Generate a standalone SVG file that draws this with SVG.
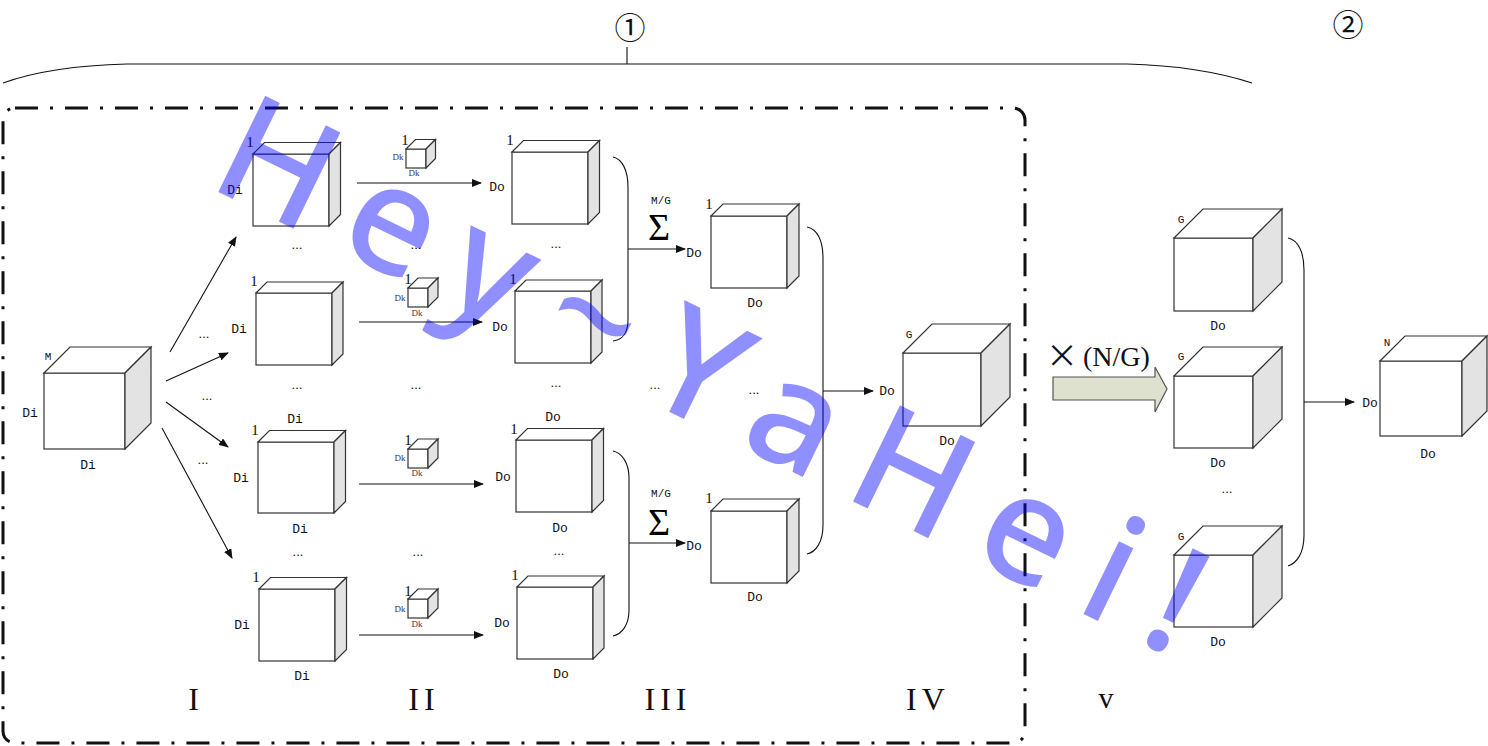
<svg xmlns="http://www.w3.org/2000/svg" width="1488" height="746" viewBox="0 0 1488 746">
<style>
.f{fill:#fff;stroke:#333;stroke-width:1.2;stroke-linejoin:miter}
.s{fill:#e3e3e3;stroke:#333;stroke-width:1.2}
.l{font-family:"Liberation Mono",monospace;font-size:13px;fill:#111;text-anchor:middle}
.k{font-family:"Liberation Serif",serif;font-size:9px;fill:#3a3048;text-anchor:middle}
.n{font-family:"Liberation Serif",serif;font-size:15px;fill:#111;text-anchor:middle}
.d{font-family:"Liberation Sans",sans-serif;font-size:13px;fill:#111;text-anchor:middle}
.r{font-family:"Liberation Serif",serif;font-size:32px;fill:#111;text-anchor:middle;letter-spacing:5px}
.sg{font-family:"Liberation Serif",serif;font-size:38px;fill:#000;text-anchor:middle}
.mg{font-family:"Liberation Mono",monospace;font-size:11px;fill:#111;text-anchor:middle}
.cn{stroke:#111;stroke-width:1.1;fill:none}
.wm{font-family:"Noto Sans","Open Sans",sans-serif;font-size:150px;font-weight:500;fill:#0000ff;fill-opacity:0.44;letter-spacing:30px}
</style>
<defs>
<marker id="ah" markerWidth="10" markerHeight="8" refX="9" refY="4" orient="auto" markerUnits="userSpaceOnUse">
<path d="M0,0 L10,4 L0,8 Z" fill="#111"/>
</marker>
</defs>

<!-- top brace and labels -->
<g id="topbrace">
<path class="cn" d="M3,83 Q50,66 127,64 L1127,64 Q1200,66 1252,83"/>
<path class="cn" d="M627,47 L627,64"/>
<text x="630" y="39" font-family="Noto Sans CJK SC, sans-serif" font-size="31" text-anchor="middle" fill="#111">①</text>
<text x="1348" y="36" font-family="Noto Sans CJK SC, sans-serif" font-size="31" text-anchor="middle" fill="#111">②</text>
</g>

<rect id="frame" x="3" y="108" width="1022" height="635" rx="12" fill="none" stroke="#111" stroke-width="3" stroke-dasharray="23 12 3 12"/>

<!-- connectors -->
<g id="connectors">
<path class="cn" d="M170,352 L236,237" marker-end="url(#ah)"/>
<path class="cn" d="M166,381 L228,353" marker-end="url(#ah)"/>
<path class="cn" d="M166,402 L228,447" marker-end="url(#ah)"/>
<path class="cn" d="M162,428 L232,558" marker-end="url(#ah)"/>
<path class="cn" d="M357,183 L481,183" marker-end="url(#ah)"/>
<path class="cn" d="M359,322 L482,322" marker-end="url(#ah)"/>
<path class="cn" d="M359,484 L483,484" marker-end="url(#ah)"/>
<path class="cn" d="M359,635 L483,635" marker-end="url(#ah)"/>
<path class="cn" d="M613,157 C622,159 628,170 628,187 L628,320 C628,333 622,340 613,341"/>
<path class="cn" d="M613,451 C622,453 629,463 629,478 L629,610 C629,625 622,634 613,636"/>
<path class="cn" d="M628,249 L685,249" marker-end="url(#ah)"/>
<path class="cn" d="M629,543 L685,543" marker-end="url(#ah)"/>
<path class="cn" d="M807,227 C817,229 823,240 823,258 L823,525 C823,542 816,552 807,554"/>
<path class="cn" d="M823,391 L873,391" marker-end="url(#ah)"/>
<path class="cn" d="M1288,238 C1298,240 1304,252 1304,270 L1304,535 C1304,553 1297,563 1288,566"/>
<path class="cn" d="M1304,402 L1354,402" marker-end="url(#ah)"/>
<path d="M1053,377 L1155,377 L1155,367 L1167,389 L1155,412 L1155,400 L1053,400 Z" fill="#dde1cd" stroke="#555" stroke-width="1.2"/>
</g>

<g id="cubeM"><rect class="f" x="44" y="373" width="81" height="76"/><polygon class="f" points="44,373 70,347 151,347 125,373"/><polygon class="s" points="125,373 151,347 151,423 125,449"/>
<text class="mg" x="48" y="360">M</text><text class="l" x="30" y="417">Di</text><text class="l" x="88" y="469">Di</text></g>

<g id="cubeI1"><rect class="f" x="253" y="154" width="76" height="72"/><polygon class="f" points="253,154 264.5,142.5 340.5,142.5 329,154"/><polygon class="s" points="329,154 340.5,142.5 340.5,214.5 329,226"/>
<text class="n" x="250" y="147">1</text><text class="l" x="235" y="194">Di</text></g>
<g id="cubeI2"><rect class="f" x="256" y="293" width="76" height="72"/><polygon class="f" points="256,293 267,282 343,282 332,293"/><polygon class="s" points="332,293 343,282 343,354 332,365"/>
<text class="n" x="254" y="286">1</text><text class="l" x="239" y="333">Di</text></g>
<g id="cubeI3"><rect class="f" x="258" y="442" width="76" height="71"/><polygon class="f" points="258,442 269.5,430.5 345.5,430.5 334,442"/><polygon class="s" points="334,442 345.5,430.5 345.5,501.5 334,513"/>
<text class="l" x="295" y="423">Di</text><text class="n" x="255" y="435">1</text><text class="l" x="241" y="482">Di</text><text class="l" x="300" y="533">Di</text></g>
<g id="cubeI4"><rect class="f" x="259" y="589" width="76" height="72"/><polygon class="f" points="259,589 270.5,577.5 346.5,577.5 335,589"/><polygon class="s" points="335,589 346.5,577.5 346.5,649.5 335,661"/>
<text class="n" x="256" y="582">1</text><text class="l" x="242" y="629">Di</text><text class="l" x="302" y="680">Di</text></g>

<g id="kernel1"><rect class="f" x="406" y="149" width="20" height="19"/><polygon class="f" points="406,149 415.5,139.5 435.5,139.5 426,149"/><polygon class="s" points="426,149 435.5,139.5 435.5,158.5 426,168"/>
<text class="n" x="405" y="145" font-size="13">1</text><text class="k" x="398" y="160">Dk</text><text class="k" x="414" y="176">Dk</text></g>
<g id="kernel2"><rect class="f" x="408" y="288" width="20" height="19"/><polygon class="f" points="408,288 418,278 438,278 428,288"/><polygon class="s" points="428,288 438,278 438,297 428,307"/>
<text class="n" x="408" y="284" font-size="13">1</text><text class="k" x="400" y="301">Dk</text><text class="k" x="417" y="316">Dk</text></g>
<g id="kernel3"><rect class="f" x="408" y="449" width="20" height="19"/><polygon class="f" points="408,449 418,439 438,439 428,449"/><polygon class="s" points="428,449 438,439 438,458 428,468"/>
<text class="n" x="408" y="445" font-size="13">1</text><text class="k" x="400" y="461">Dk</text><text class="k" x="417" y="476">Dk</text></g>
<g id="kernel4"><rect class="f" x="408" y="599" width="20" height="19"/><polygon class="f" points="408,599 418,589 438,589 428,599"/><polygon class="s" points="428,599 438,589 438,608 428,618"/>
<text class="n" x="408" y="596" font-size="13">1</text><text class="k" x="400" y="612">Dk</text><text class="k" x="417" y="627">Dk</text></g>

<g id="cubeA"><rect class="f" x="512" y="152" width="76" height="72"/><polygon class="f" points="512,152 523.5,140.5 599.5,140.5 588,152"/><polygon class="s" points="588,152 599.5,140.5 599.5,212.5 588,224"/>
<text class="n" x="510" y="145">1</text><text class="l" x="497" y="191">Do</text></g>
<g id="cubeB"><rect class="f" x="515" y="291" width="76" height="72"/><polygon class="f" points="515,291 526,280 602,280 591,291"/><polygon class="s" points="591,291 602,280 602,352 591,363"/>
<text class="n" x="513" y="284">1</text><text class="l" x="500" y="331">Do</text></g>
<g id="cubeC"><rect class="f" x="516" y="440" width="76" height="72"/><polygon class="f" points="516,440 527.5,428.5 603.5,428.5 592,440"/><polygon class="s" points="592,440 603.5,428.5 603.5,500.5 592,512"/>
<text class="l" x="553" y="421">Do</text><text class="n" x="514" y="434">1</text><text class="l" x="503" y="481">Do</text><text class="l" x="560" y="532">Do</text></g>
<g id="cubeD"><rect class="f" x="517" y="587" width="76" height="72"/><polygon class="f" points="517,587 528,576 604,576 593,587"/><polygon class="s" points="593,587 604,576 604,648 593,659"/>
<text class="n" x="515" y="580">1</text><text class="l" x="502" y="627">Do</text><text class="l" x="561" y="678">Do</text></g>

<g id="sum1"><text class="mg" x="661" y="204">M/G</text><text class="sg" x="659" y="240">Σ</text><text class="l" x="694" y="257">Do</text></g>
<g id="sum2"><text class="mg" x="661" y="497">M/G</text><text class="sg" x="659" y="535">Σ</text><text class="l" x="694" y="550">Do</text></g>

<g id="cubeE"><rect class="f" x="711" y="216" width="76" height="72"/><polygon class="f" points="711,216 723,204 799,204 787,216"/><polygon class="s" points="787,216 799,204 799,276 787,288"/>
<text class="n" x="709" y="209">1</text><text class="l" x="755" y="307">Do</text></g>
<g id="cubeF"><rect class="f" x="711" y="511" width="76" height="72"/><polygon class="f" points="711,511 723,499 799,499 787,511"/><polygon class="s" points="787,511 799,499 799,571 787,583"/>
<text class="n" x="709" y="503">1</text><text class="l" x="755" y="601">Do</text></g>

<g id="cubeG"><rect class="f" x="903" y="353" width="78" height="73"/><polygon class="f" points="903,353 932,324 1010,324 981,353"/><polygon class="s" points="981,353 1010,324 1010,397 981,426"/>
<text class="mg" x="909" y="338">G</text><text class="l" x="887" y="395">Do</text><text class="l" x="947" y="445">Do</text></g>

<g id="cubeH1"><rect class="f" x="1174" y="238" width="79" height="73"/><polygon class="f" points="1174,238 1203,209 1282,209 1253,238"/><polygon class="s" points="1253,238 1282,209 1282,282 1253,311"/>
<text class="mg" x="1181" y="223">G</text><text class="l" x="1218" y="330">Do</text></g>
<g id="cubeH2"><rect class="f" x="1174" y="376" width="79" height="72"/><polygon class="f" points="1174,376 1203,347 1282,347 1253,376"/><polygon class="s" points="1253,376 1282,347 1282,419 1253,448"/>
<text class="mg" x="1181" y="360">G</text><text class="l" x="1218" y="467">Do</text></g>
<g id="cubeH3"><rect class="f" x="1174" y="555" width="79" height="72"/><polygon class="f" points="1174,555 1203,526 1282,526 1253,555"/><polygon class="s" points="1253,555 1282,526 1282,598 1253,627"/>
<text class="mg" x="1181" y="540">G</text><text class="l" x="1218" y="646">Do</text></g>
<g id="cubeN"><rect class="f" x="1380" y="361" width="82" height="75"/><polygon class="f" points="1380,361 1405,336 1487,336 1462,361"/><polygon class="s" points="1462,361 1487,336 1487,411 1462,436"/>
<text class="mg" x="1387" y="346">N</text><text class="l" x="1370" y="407">Do</text><text class="l" x="1428" y="458">Do</text></g>

<g id="ellipses">
<text class="d" x="204" y="338">...</text><text class="d" x="207" y="400">...</text><text class="d" x="203" y="464">...</text>
<text class="d" x="297" y="249">...</text><text class="d" x="297" y="389">...</text><text class="d" x="298" y="556">...</text>
<text class="d" x="416" y="249">...</text><text class="d" x="416" y="389">...</text><text class="d" x="418" y="556">...</text>
<text class="d" x="556" y="248">...</text><text class="d" x="556" y="387">...</text><text class="d" x="559" y="555">...</text>
<text class="d" x="655" y="389">...</text><text class="d" x="754" y="394">...</text>
<text class="d" x="1227" y="493">...</text>
</g>

<g id="labels">
<text class="r" x="196" y="710">I</text>
<text class="r" x="424" y="710">II</text>
<text class="r" x="668" y="710">III</text>
<text class="r" x="928" y="710">IV</text>
<text x="1106" y="708" font-family="Liberation Serif, serif" font-size="30" text-anchor="middle" fill="#111">v</text>
<text x="1062" y="367" font-family="Noto Sans CJK SC, sans-serif" font-size="32" text-anchor="middle" fill="#111">×</text>
<text x="1083" y="366" font-family="Liberation Serif, serif" font-size="28" fill="#111">(N/G)</text>
</g>

<g id="watermark"><text class="wm" transform="translate(728,376) rotate(26)" text-anchor="middle" dominant-baseline="central">Hey~YaHei!</text></g>
</svg>
